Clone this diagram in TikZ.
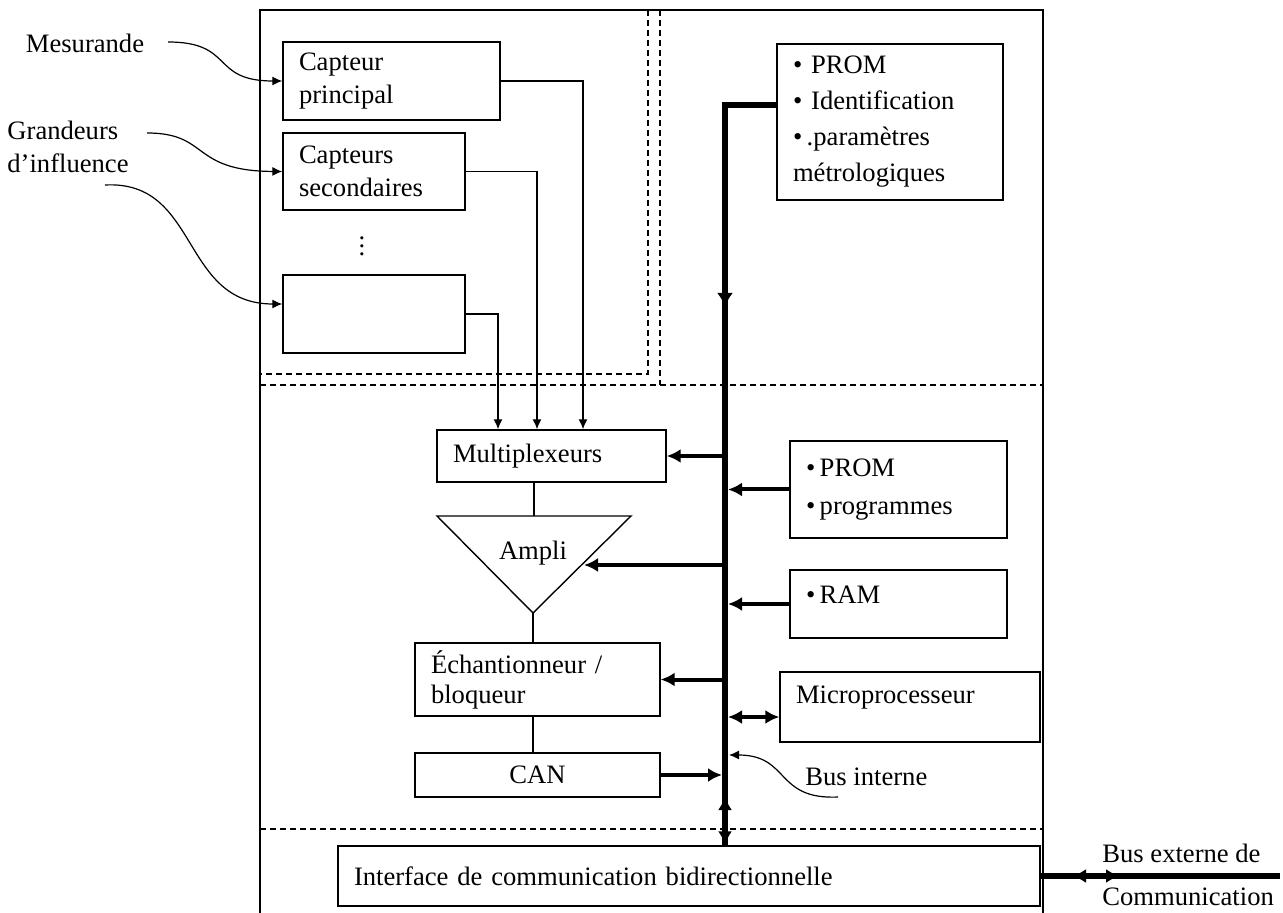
\documentclass[tikz,border=0pt]{standalone}
\usepackage{fontspec}
\setmainfont{Liberation Serif}
\usepackage{tikz}
\usetikzlibrary{arrows.meta, calc}
\tikzset{
  blk/.style    ={rectangle, draw=black, line width=0.7pt, inner xsep=8pt, inner ysep=3pt,
                  font=\fontsize{13.3}{16.5}\selectfont, align=left},
  lbl/.style    ={font=\fontsize{13.3}{16.5}\selectfont, inner sep=1pt, align=left},
  ln/.style     ={line width=0.7pt},
  bus/.style    ={line width=3pt},
  barr/.style   ={-{Latex[length=7pt, width=7pt]}, line width=2pt},
  dbarr/.style  ={{Latex[length=7pt, width=7pt]}-{Latex[length=7pt, width=7pt]}, line width=2pt},
  busarr/.style ={-{Latex[length=7pt, width=8pt]}, line width=3pt},
  thinarr/.style={-{Latex[length=5pt, width=4.5pt]}, line width=0.7pt},
  curvarr/.style={-{Latex[length=5pt, width=4.5pt]}, line width=0.6pt},
  zone/.style   ={dashed, dash pattern=on 3pt off 2pt, line width=0.6pt},
}

\begin{document}
\begin{tikzpicture}[x=0.5pt, y=-0.5pt]
\useasboundingbox (0,0) rectangle (1283,913);

\draw[ln] (260,913) |- (1043,10) -- (1043,913);
\draw[zone] (648,10) -- (648,374) -- (260,374);
\draw[zone] (660,10) -- (660,385);
\draw[zone] (260,385) -- (1043,385);
\draw[zone] (260,829) -- (1043,829);

\node[blk, text width=92.5pt, minimum height=39pt] (cp) at (391.5,81) {Capteur\\principal};
\node[blk, text width=75pt, minimum height=38.5pt] (cs) at (374,171.5) {Capteurs\\secondaires};
\node[lbl] (dots) at (362,240) {$\vdots$};
\node[blk, text width=75pt, minimum height=39pt] (emp) at (374,314) {};

\node[lbl] (mes) at (85,43) {Mesurande};
\node[lbl] (grand) at (68,147) {Grandeurs\\d’influence};
\coordinate (mes-out) at (168,42);
\coordinate (gr-out1) at (147,133);
\coordinate (gr-out2) at (105,185);
\coordinate (emp-in) at ($(emp.west)+(0,-10)$);
\draw[curvarr] (mes-out) .. controls (235,42) and (210,81) .. (cp.west);
\draw[curvarr] (gr-out1) .. controls (210,133) and (190,171) .. (cs.west);
\draw[curvarr] (gr-out2) .. controls (200,180) and (180,304) .. (emp-in);

\node[blk, text width=98.5pt, minimum height=26pt] (mux) at (551.5,456) {Multiplexeurs};
\draw[thinarr] (cp.east) -| (583,0 |- mux.north);
\draw[thinarr] (cs.east) -| (537,0 |- mux.north);
\draw[thinarr] (emp.east) -| (498,0 |- mux.north);

\coordinate (amp-top) at (534,516);
\coordinate (amp-bot) at (533,613);
\coordinate (amp-r) at (584,565);
\draw[ln] (437,516) -- (631,516) -- (amp-bot) -- cycle;
\node[lbl] (ampli) at (533,553) {Ampli};

\node[blk, text width=106.5pt, minimum height=36.5pt, font=\fontsize{13.3}{15}\selectfont] (ech) at (537.5,679.5)
  {Échantionneur /\\bloqueur};
\node[blk, text width=106.5pt, minimum height=22pt, align=center] (can) at (537.5,775) {CAN};

\draw[ln] (mux.south -| amp-top) -- (amp-top);
\draw[ln] (amp-bot) -- (amp-bot |- ech.north);
\draw[ln] (ech.south -| amp-bot) -- (can.north -| amp-bot);

\node[blk, text width=97pt, minimum height=78pt, font=\fontsize{13.3}{18}\selectfont] (prom1) at (890,122)
  {\textbullet\ PROM\\\textbullet\ Identification\\\textbullet\,.paramètres\\métrologiques};
\node[blk, text width=92.5pt, minimum height=48.5pt, font=\fontsize{13.3}{19}\selectfont] (prom2) at (898.5,489.5)
  {\textbullet\,PROM\\\textbullet\,programmes};
\node[blk, text width=92.5pt, minimum height=34pt, text depth=9pt] (ram) at (898.5,604) {\textbullet\,RAM};
\node[blk, text width=114pt, minimum height=35pt, text depth=12pt] (micro) at (910,707) {Microprocesseur};
\node[blk, text width=335pt, minimum height=30pt] (intf) at (689,876)
  {Interface de communication bidirectionnelle};

\coordinate (bustop) at (725,105);
\draw[bus] ($(prom1.west)+(0,-17)$) -- (bustop) -- (intf.north -| bustop);
\draw[busarr] (bustop) -- (725,307);
\draw[barr] (mux.east -| bustop) -- (mux.east);
\draw[barr] (amp-r -| bustop) -- (amp-r);
\draw[barr] (ech.east -| bustop) -- (ech.east);
\draw[barr, shorten >=1.5pt] (prom2.west) -- (prom2.west -| bustop);
\draw[barr, shorten >=1.5pt] (ram.west) -- (ram.west -| bustop);
\draw[barr, shorten >=1.5pt] (can.east) -- (can.east -| bustop);
\coordinate (mic-in) at ($(micro.west)+(0,10)$);
\draw[dbarr, shorten <=1.5pt] (mic-in -| bustop) -- (mic-in);
\draw[dbarr, line width=3pt] (725,796) -- (intf.north -| bustop);

\node[lbl, anchor=west] (busint) at (803,777) {Bus interne};
\coordinate (bi-start) at (838,797);
\coordinate (bi-end) at (729,755);
\draw[curvarr] (bi-start) .. controls (775,800) and (790,755) .. (bi-end);

\coordinate (ext-a) at (1072,876);
\coordinate (ext-b) at (1120,876);
\coordinate (extend) at (1280,876);
\draw[bus] (intf.east) -- (extend);
\draw[dbarr, line width=3pt] (ext-a) -- (ext-b);
\node[lbl, anchor=west] (busext) at (1100,853) {Bus externe de};
\node[lbl, anchor=west] (comm) at (1100,897) {Communication};
\end{tikzpicture}
\end{document}
